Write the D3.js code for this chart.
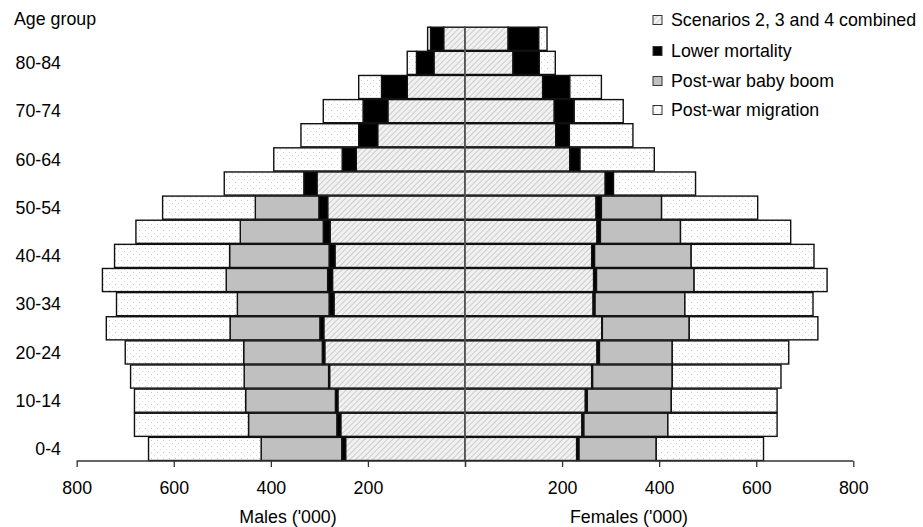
<!DOCTYPE html>
<html><head><meta charset="utf-8">
<script src="https://cdn.jsdelivr.net/npm/d3@7"></script>
<style>
body{margin:0;background:#fff;}
svg{display:block;font-family:Arial,"Liberation Sans",sans-serif;}
</style></head>
<body><svg id="c" width="923" height="527"></svg>
<script>
// Age groups, bottom to top
const ageGroups = ["0-4","5-9","10-14","15-19","20-24","25-29","30-34","35-39","40-44","45-49","50-54","55-59","60-64","65-69","70-74","75-79","80-84","85+"];
const ageLabels = ["0-4","10-14","20-24","30-34","40-44","50-54","60-64","70-74","80-84"];
const seriesNames = ["Scenarios 2, 3 and 4 combined","Lower mortality","Post-war baby boom","Post-war migration"];
// Males ('000)
const maleScenarios = [246,256,262,279,289,291,270,273,268,278,283,305,224,180,159,119,64,44];
const maleMortality = [8,8,5,2,5,8,10,10,12,14,18,27,29,39,51,53,36,27];
const maleBabyBoom  = [166,182,185,174,162,185,189,209,205,171,131,0,0,0,0,0,0,0];
const maleMigration = [232,235,229,234,244,255,249,255,237,215,191,164,141,119,82,47,19,6];
// Females ('000)
const femaleScenarios = [230,241,248,261,272,282,264,265,261,272,270,289,216,187,184,160,99,89];
const femaleMortality = [5,4,4,2,5,1,4,6,6,7,11,17,21,28,41,56,54,63];
const femaleBabyBoom  = [159,173,173,164,150,179,185,201,199,165,124,0,0,0,0,0,0,0];
const femaleMigration = [221,225,218,224,240,265,264,274,253,227,198,169,153,131,101,65,33,17];
const xTicks = [0,200,400,600,800];
const legendY = [20,51,81,110];

const FS = "17.8px";
const svg = d3.select("#c");
const defs = svg.append("defs");
const hatch = defs.append("pattern").attr("id","hatch").attr("patternUnits","userSpaceOnUse")
  .attr("width",4).attr("height",4).attr("patternTransform","rotate(45)");
hatch.append("rect").attr("width",4).attr("height",4).attr("fill","#f1f1f1");
hatch.append("line").attr("x1",0).attr("y1",0).attr("x2",0).attr("y2",4).attr("stroke","#b4b4b4").attr("stroke-width",1.2);
const dots = defs.append("pattern").attr("id","dots").attr("patternUnits","userSpaceOnUse")
  .attr("width",6).attr("height",6);
dots.append("rect").attr("width",6).attr("height",6).attr("fill","#fff");
dots.append("rect").attr("x",1).attr("y",2).attr("width",1).attr("height",1).attr("fill","#c8c8c8");
dots.append("rect").attr("x",4).attr("y",5).attr("width",1).attr("height",1).attr("fill","#dadada");

const fills = ["url(#hatch)","#000","#c0c0c0","url(#dots)"];
const cx = 465;
const xL = d3.scaleLinear().domain([0,800]).range([cx,76.7]);
const xR = d3.scaleLinear().domain([0,800]).range([cx,853.3]);
const y = d3.scaleBand().domain(ageGroups.slice().reverse()).range([26.7,461]).padding(0);

function rows(a,b,c,d){
  return ageGroups.map((g,i)=>({age:g, vals:[a[i],b[i],c[i],d[i]]}));
}
function drawSide(data, x){
  const segs = [];
  data.forEach(r=>{
    let acc=0;
    r.vals.forEach((v,k)=>{
      if(v>0) segs.push({age:r.age,k:k,x0:acc,x1:acc+v});
      acc+=v;
    });
  });
  svg.append("g").selectAll("rect").data(segs).join("rect")
    .attr("x",d=>Math.min(x(d.x0),x(d.x1)))
    .attr("width",d=>Math.abs(x(d.x1)-x(d.x0)))
    .attr("y",d=>y(d.age)+0.5)
    .attr("height",y.bandwidth()-1)
    .attr("fill",d=>fills[d.k])
    .attr("stroke","#111").attr("stroke-width",1.4);
}
drawSide(rows(maleScenarios,maleMortality,maleBabyBoom,maleMigration), xL);
drawSide(rows(femaleScenarios,femaleMortality,femaleBabyBoom,femaleMigration), xR);

// centre line
svg.append("line").attr("x1",cx).attr("x2",cx).attr("y1",26.7).attr("y2",461)
  .attr("stroke","#707070").attr("stroke-width",1.3);

// axes
const fmt = d=> d===0 ? "" : d;
const gL = svg.append("g").attr("transform","translate(0,461)")
  .call(d3.axisBottom(xL).tickValues(xTicks).tickFormat(fmt).tickSize(6).tickPadding(14));
const gR = svg.append("g").attr("transform","translate(0,461)")
  .call(d3.axisBottom(xR).tickValues(xTicks).tickFormat(fmt).tickSize(6).tickPadding(14));
[gL,gR].forEach(g=>{
  g.select(".domain").attr("stroke","#333").attr("stroke-width",1.3).attr("d", g===gL ? "M76.7,0H465" : "M465,0H853.3");
  g.selectAll(".tick line").attr("stroke","#333").attr("stroke-width",1.3);
  g.selectAll(".tick text").attr("font-size",FS).attr("fill","#000").attr("font-family","Arial, Liberation Sans, sans-serif");
});

svg.append("text").attr("x",288).attr("y",523).attr("text-anchor","middle").attr("font-size",FS).text("Males ('000)");
svg.append("text").attr("x",629).attr("y",523).attr("text-anchor","middle").attr("font-size",FS).text("Females ('000)");

// y labels
svg.append("text").attr("x",14).attr("y",19).attr("dy","0.35em").attr("font-size",FS).text("Age group");
svg.append("g").selectAll("text").data(ageLabels).join("text")
  .attr("x",61).attr("y",d=>y(d)+y.bandwidth()/2).attr("dy","0.35em")
  .attr("text-anchor","end").attr("font-size",FS).text(d=>d);

// legend
const lg = svg.append("g").selectAll("g").data(seriesNames).join("g")
  .attr("transform",(d,i)=>`translate(653,${legendY[i]})`);
lg.append("rect").attr("x",0).attr("y",-4.5).attr("width",9).attr("height",9)
  .attr("fill",(d,i)=>fills[i]).attr("stroke","#333").attr("stroke-width",1);
lg.append("text").attr("x",18).attr("y",0).attr("dy","0.35em").attr("font-size",FS).text(d=>d);
</script></body></html>
